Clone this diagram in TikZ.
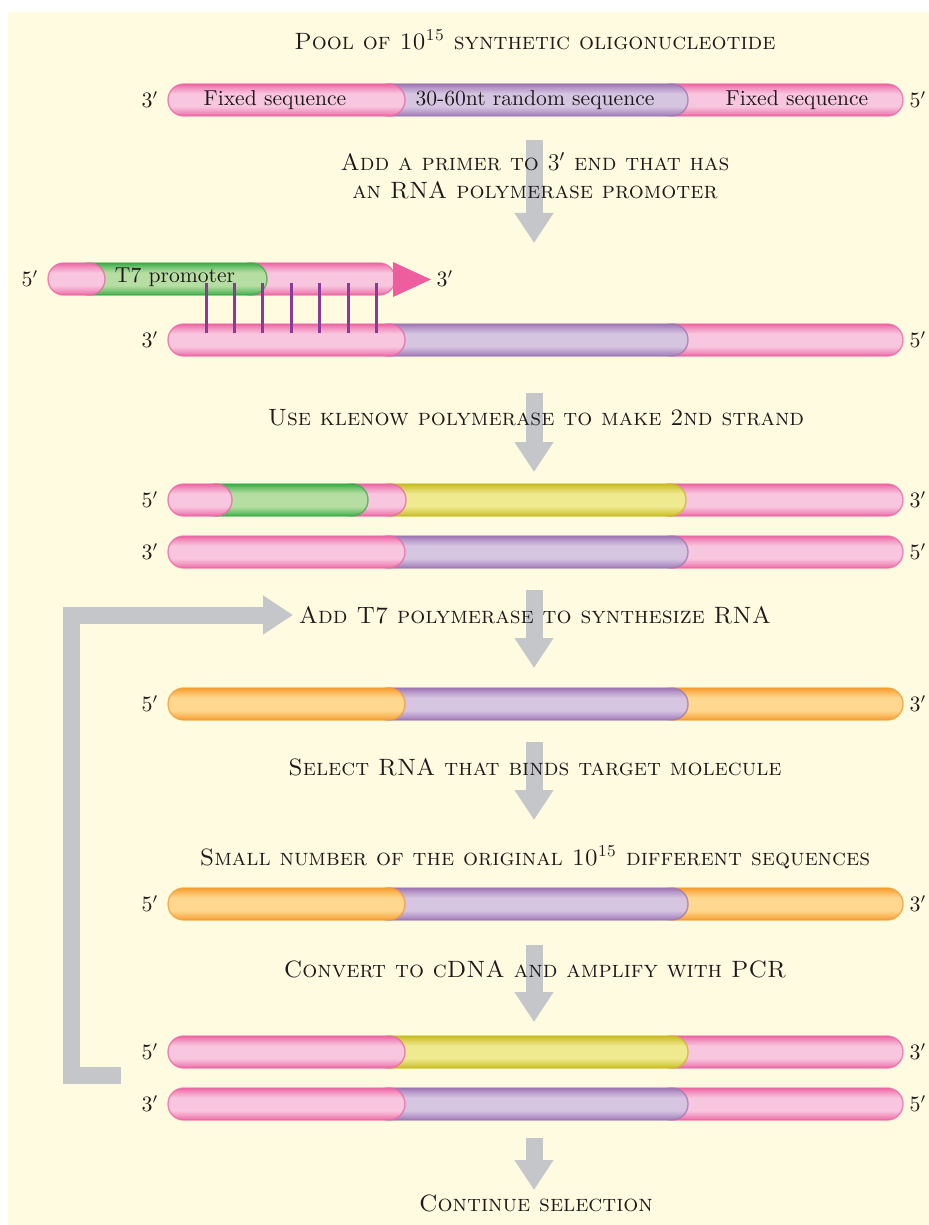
\documentclass[tikz,border=0pt]{standalone}
\usepackage{xcolor}
\usepackage{tikz}
\usetikzlibrary{arrows.meta}
\definecolor{kbg}{HTML}{FFFBE0}
\definecolor{ktext}{HTML}{1E1A1B}
\definecolor{kgrey}{HTML}{C5C6C9}
\definecolor{kpink}{HTML}{F8C6DE}
\definecolor{kpinkdark}{HTML}{EC67A5}
\definecolor{kpurple}{HTML}{D6C5E1}
\definecolor{kpurpledark}{HTML}{9F76B5}
\definecolor{kyellow}{HTML}{EFE98F}
\definecolor{kyellowdark}{HTML}{C8BC1F}
\definecolor{kgreen}{HTML}{B7DEA2}
\definecolor{kgreendark}{HTML}{3AAD48}
\definecolor{korange}{HTML}{FFD78E}
\definecolor{korangedark}{HTML}{F59C2F}
\definecolor{ktick}{HTML}{8A3B97}
\definecolor{karrowpink}{HTML}{EE5E9F}
%% tube shading: dark rim, light middle
\newcommand{\tubeshade}[3]{%
  \pgfdeclareverticalshading{#1}{100bp}{color(0bp)=(#3); color(25bp)=(#3);
    color(31bp)=(#3!55!#2); color(40bp)=(#2); color(60bp)=(#2);
    color(69bp)=(#3!55!#2); color(75bp)=(#3); color(100bp)=(#3)}}
\tubeshade{pinktube}{kpink}{kpinkdark}
\tubeshade{purpletube}{kpurple}{kpurpledark}
\tubeshade{yellowtube}{kyellow}{kyellowdark}
\tubeshade{greentube}{kgreen}{kgreendark}
\tubeshade{orangetube}{korange}{korangedark}
%% one piece of a strand: x left, x right, y centre, colour name
\newcommand{\tubeseg}[4]{%
  \shade[shading=#4tube, draw=k#4dark, draw opacity=0.75, line width=0.7pt,
    rounded corners=7.9pt] (#1,#3-16) rectangle (#2,#3+16);
}
%% plain strand: y centre, random part, ends
\newcommand{\plainstrand}[3]{%
  \tubeseg{656}{903}{#1}{#3}
  \tubeseg{373}{688}{#1}{#2}
  \tubeseg{168}{405}{#1}{#3}
}

\begin{document}
\begin{tikzpicture}[x=0.5pt, y=-0.5pt,
  steptext/.style={font=\fontsize{11.8}{14}\selectfont\scshape, text=ktext, inner sep=0pt, align=center},
  endlabel/.style={font=\fontsize{10.5}{12}\selectfont, text=ktext, inner sep=0pt},
  seqtext/.style={font=\fontsize{10.8}{12}\selectfont, text=ktext, inner sep=0pt},
  flowarrow/.style={draw=kgrey, line width=8.5pt, -{Triangle[width=18.5pt, length=15pt]}},
  tickline/.style={ktick, line width=1.5pt}]

  \useasboundingbox (0,0) rectangle (929,1225);
  \fill[kbg] (8,12) rectangle (929,1225);

  %% grey step arrows
  \coordinate (a1s) at (534,140);  \coordinate (a1e) at (534,243);
  \coordinate (a2s) at (534,393);  \coordinate (a2e) at (534,472);
  \coordinate (a3s) at (534,590);  \coordinate (a3e) at (534,668);
  \coordinate (a4s) at (534,742);  \coordinate (a4e) at (534,820);
  \coordinate (a5s) at (534,945);  \coordinate (a5e) at (534,1022);
  \coordinate (a6s) at (534,1138); \coordinate (a6e) at (534,1190);
  \foreach \n in {1,...,6}{
    \draw[flowarrow] (a\n s) -- (a\n e);
  }
  %% loop back to T7 step
  \coordinate (loopstart) at (121,1075);
  \coordinate (loopcorner) at (71.5,615);
  \coordinate (loopend) at (293,615);
  \draw[flowarrow, line join=miter] (loopstart) -| (loopcorner) -- (loopend);

  %% pool of oligos
  \plainstrand{100}{purple}{pink}
  \node[seqtext] (fixl) at (275,100) {Fixed sequence};
  \node[seqtext] (rand) at (535,100) {30-60nt random sequence};
  \node[seqtext] (fixr) at (797,100) {Fixed sequence};
  \node[endlabel] (p1l) at (150,100) {$3'$};
  \node[endlabel] (p1r) at (918,100) {$5'$};

  %% primer with T7 promoter
  \tubeseg{235}{395}{279}{pink}
  \tubeseg{73}{267}{279}{green}
  \tubeseg{48}{105}{279}{pink}
  \fill[karrowpink] (393,262) -- (431,279.5) -- (393,297) -- cycle;
  \node[seqtext] (t7) at (175,277) {T7 promoter};
  \node[endlabel] (prl) at (30,279) {$5'$};
  \node[endlabel] (prr) at (445,279) {$3'$};

  \plainstrand{340}{purple}{pink}
  \node[endlabel] (p2l) at (150,340) {$3'$};
  \node[endlabel] (p2r) at (918,340) {$5'$};
  \foreach \i in {0,...,6}{
    \draw[tickline] ({206+\i*28.4},283) -- ({206+\i*28.4},333);
  }

  %% second strand made
  \tubeseg{654}{903}{500}{pink}
  \tubeseg{374}{686}{500}{yellow}
  \tubeseg{336}{406}{500}{pink}
  \tubeseg{200}{368}{500}{green}
  \tubeseg{168}{232}{500}{pink}
  \node[endlabel] (d1l) at (150,500) {$5'$};
  \node[endlabel] (d1r) at (918,500) {$3'$};
  \plainstrand{552}{purple}{pink}
  \node[endlabel] (d2l) at (150,552) {$3'$};
  \node[endlabel] (d2r) at (918,552) {$5'$};

  %% RNA
  \plainstrand{704}{purple}{orange}
  \node[endlabel] (r1l) at (150,704) {$5'$};
  \node[endlabel] (r1r) at (918,704) {$3'$};
  \plainstrand{904}{purple}{orange}
  \node[endlabel] (r2l) at (150,904) {$5'$};
  \node[endlabel] (r2r) at (918,904) {$3'$};

  %% cDNA after PCR
  \plainstrand{1052}{yellow}{pink}
  \node[endlabel] (c1l) at (150,1052) {$5'$};
  \node[endlabel] (c1r) at (918,1052) {$3'$};
  \plainstrand{1104}{purple}{pink}
  \node[endlabel] (c2l) at (150,1104) {$3'$};
  \node[endlabel] (c2r) at (918,1104) {$5'$};

  %% step texts
  \node[steptext] (pool) at (535,40) {Pool of 10\textsuperscript{15} synthetic oligonucleotide};
  \node[steptext] (primer) at (535,176) {Add a primer to $3'$ end that has\\an RNA polymerase promoter};
  \node[steptext] (klenow) at (536,418) {Use klenow polymerase to make 2nd strand};
  \node[steptext] (t7pol) at (535,615) {Add T7 polymerase to synthesize RNA};
  \node[steptext] (select) at (535,767) {Select RNA that binds target molecule};
  \node[steptext] (small) at (535,857) {Small number of the original 10\textsuperscript{15} different sequences};
  \node[steptext] (cdna) at (535,969) {Convert to cDNA and amplify with PCR};
  \node[steptext] (cont) at (536,1203) {Continue selection};

\end{tikzpicture}
\end{document}
